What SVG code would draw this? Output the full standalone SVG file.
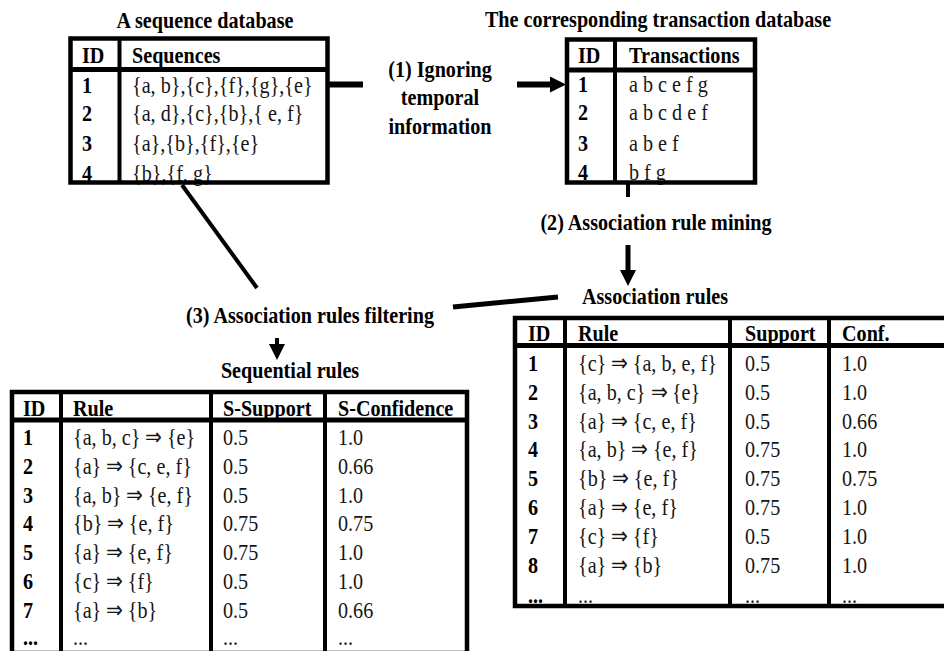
<svg xmlns="http://www.w3.org/2000/svg" width="944" height="651" viewBox="0 0 944 651" font-family="'Liberation Serif', 'Times New Roman', Times, serif">
<style>
text { font-size: 24px; fill: #161616; transform-box: fill-box; transform-origin: 0 0; transform: scaleX(0.84); }
text.m { text-anchor: middle; transform-origin: 50% 0; }
.b { font-weight: bold; fill: #000; }
.frame { fill: none; stroke: #000; stroke-width: 4.5; }
.grid { stroke: #000; stroke-width: 4; fill: none; }
.hsep { stroke: #000; stroke-width: 5; }
.conn { stroke: #000; fill: none; stroke-linecap: butt; }
</style>
<defs>
<marker id="ah" markerUnits="userSpaceOnUse" markerWidth="16" markerHeight="16" refX="6" refY="8" orient="auto">
<path d="M0,0 L16,8 L0,16 Z" fill="#000"/>
</marker>
</defs>
<rect width="944" height="651" fill="#fff"/>

<g id="sequence-database">
<text class="b m" x="205" y="28">A sequence database</text>
<text class="b" x="82" y="63">ID</text>
<text class="b" x="132" y="63">Sequences</text>
<text class="b" x="82" y="93">1</text><text x="132" y="93">{a, b},{c},{f},{g},{e}</text>
<text class="b" x="82" y="121">2</text><text x="132" y="121">{a, d},{c},{b},{ e, f}</text>
<text class="b" x="82" y="151">3</text><text x="132" y="151">{a},{b},{f},{e}</text>
<text class="b" x="82" y="181">4</text><text x="132" y="181">{b},{f, g}</text>
<rect class="frame" x="70.5" y="38.5" width="257" height="144"/>
<line class="hsep" x1="70.5" y1="69.5" x2="327.5" y2="69.5"/>
<line class="grid" x1="119.5" y1="38.5" x2="119.5" y2="182.5"/>
</g>

<g id="transaction-database">
<text class="b m" x="658" y="27">The corresponding transaction database</text>
<text class="b" x="578" y="63">ID</text>
<text class="b" x="629" y="63">Transactions</text>
<text class="b" x="578" y="92">1</text><text x="629" y="92">a b c e f g</text>
<text class="b" x="578" y="120">2</text><text x="629" y="120">a b c d e f</text>
<text class="b" x="578" y="151">3</text><text x="629" y="151">a b e f</text>
<text class="b" x="578" y="180">4</text><text x="629" y="180">b f g</text>
<rect class="frame" x="567" y="39.5" width="188" height="143"/>
<line class="hsep" x1="567" y1="70" x2="755" y2="70"/>
<line class="grid" x1="615" y1="39.5" x2="615" y2="182.5"/>
</g>

<g id="association-rules">
<text class="b m" x="655" y="304">Association rules</text>
<text class="b" x="528" y="341">ID</text>
<text class="b" x="578" y="341">Rule</text>
<text class="b" x="745" y="341">Support</text>
<text class="b" x="842" y="341">Conf.</text>
<text class="b" x="528" y="371">1</text><text x="578" y="371">{c} ⇒ {a, b, e, f}</text><text x="745" y="371">0.5</text><text x="842" y="371">1.0</text>
<text class="b" x="528" y="400">2</text><text x="578" y="400">{a, b, c} ⇒ {e}</text><text x="745" y="400">0.5</text><text x="842" y="400">1.0</text>
<text class="b" x="528" y="429">3</text><text x="578" y="429">{a} ⇒ {c, e, f}</text><text x="745" y="429">0.5</text><text x="842" y="429">0.66</text>
<text class="b" x="528" y="457">4</text><text x="578" y="457">{a, b} ⇒ {e, f}</text><text x="745" y="457">0.75</text><text x="842" y="457">1.0</text>
<text class="b" x="528" y="486">5</text><text x="578" y="486">{b} ⇒ {e, f}</text><text x="745" y="486">0.75</text><text x="842" y="486">0.75</text>
<text class="b" x="528" y="515">6</text><text x="578" y="515">{a} ⇒ {e, f}</text><text x="745" y="515">0.75</text><text x="842" y="515">1.0</text>
<text class="b" x="528" y="544">7</text><text x="578" y="544">{c} ⇒ {f}</text><text x="745" y="544">0.5</text><text x="842" y="544">1.0</text>
<text class="b" x="528" y="573">8</text><text x="578" y="573">{a} ⇒ {b}</text><text x="745" y="573">0.75</text><text x="842" y="573">1.0</text>
<text class="b" x="528" y="603">...</text><text x="578" y="603">...</text><text x="745" y="603">...</text><text x="842" y="603">...</text>
<rect class="frame" x="515" y="318" width="440" height="288"/>
<line class="hsep" x1="515" y1="345.5" x2="944" y2="345.5"/>
<line class="grid" x1="565" y1="318" x2="565" y2="606"/>
<line class="grid" x1="730" y1="318" x2="730" y2="606"/>
<line class="grid" x1="829" y1="318" x2="829" y2="606"/>
</g>

<g id="sequential-rules">
<text class="b m" x="290" y="378">Sequential rules</text>
<text class="b" x="23" y="416">ID</text>
<text class="b" x="73" y="416">Rule</text>
<text class="b" x="223" y="416">S-Support</text>
<text class="b" x="338" y="416">S-Confidence</text>
<text class="b" x="23" y="445">1</text><text x="73" y="445">{a, b, c} ⇒ {e}</text><text x="223" y="445">0.5</text><text x="338" y="445">1.0</text>
<text class="b" x="23" y="474">2</text><text x="73" y="474">{a} ⇒ {c, e, f}</text><text x="223" y="474">0.5</text><text x="338" y="474">0.66</text>
<text class="b" x="23" y="503">3</text><text x="73" y="503">{a, b} ⇒ {e, f}</text><text x="223" y="503">0.5</text><text x="338" y="503">1.0</text>
<text class="b" x="23" y="531">4</text><text x="73" y="531">{b} ⇒ {e, f}</text><text x="223" y="531">0.75</text><text x="338" y="531">0.75</text>
<text class="b" x="23" y="560">5</text><text x="73" y="560">{a} ⇒ {e, f}</text><text x="223" y="560">0.75</text><text x="338" y="560">1.0</text>
<text class="b" x="23" y="589">6</text><text x="73" y="589">{c} ⇒ {f}</text><text x="223" y="589">0.5</text><text x="338" y="589">1.0</text>
<text class="b" x="23" y="618">7</text><text x="73" y="618">{a} ⇒ {b}</text><text x="223" y="618">0.5</text><text x="338" y="618">0.66</text>
<text class="b" x="23" y="645">...</text><text x="73" y="645">...</text><text x="223" y="645">...</text><text x="338" y="645">...</text>
<rect class="frame" x="12" y="392" width="455" height="261"/>
<line class="hsep" x1="12" y1="420" x2="467" y2="420"/>
<line class="grid" x1="61" y1="392" x2="61" y2="653"/>
<line class="grid" x1="211" y1="392" x2="211" y2="653"/>
<line class="grid" x1="325" y1="392" x2="325" y2="653"/>
</g>

<g id="connectors">
<line class="conn" x1="327" y1="84.5" x2="363" y2="84.5" stroke-width="6"/>
<line class="conn" x1="517" y1="84.5" x2="556" y2="84.5" stroke-width="6" marker-end="url(#ah)"/>
<line class="conn" x1="628" y1="183" x2="628" y2="197" stroke-width="4"/>
<line class="conn" x1="628" y1="245" x2="628" y2="276" stroke-width="5" marker-end="url(#ah)"/>
<line class="conn" x1="558" y1="297" x2="453" y2="307" stroke-width="5"/>
<line class="conn" x1="182" y1="185" x2="257" y2="288" stroke-width="4"/>
<line class="conn" x1="277" y1="338" x2="277" y2="350" stroke-width="4" marker-end="url(#ah)"/>
<text class="b m" x="440" y="77">(1) Ignoring</text>
<text class="b m" x="440" y="105">temporal</text>
<text class="b m" x="440" y="134">information</text>
<text class="b m" x="656" y="230">(2) Association rule mining</text>
<text class="b m" x="310" y="323">(3) Association rules filtering</text>
</g>
</svg>
